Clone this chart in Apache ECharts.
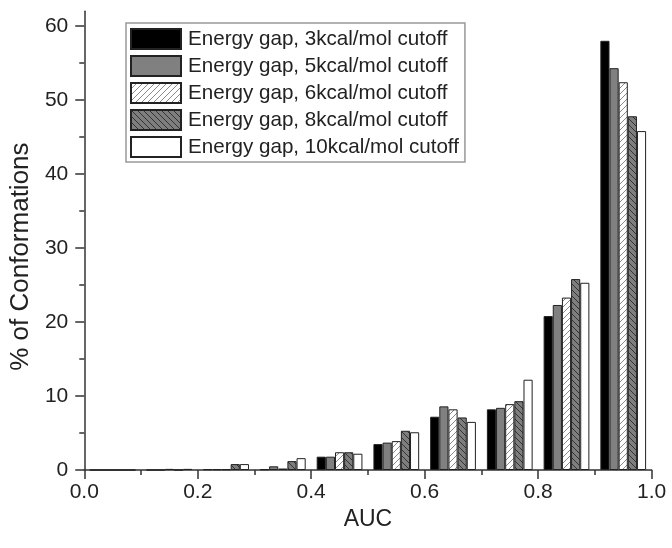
<!DOCTYPE html>
<html>
<head>
<meta charset="utf-8">
<script src="https://cdn.jsdelivr.net/npm/echarts@6/dist/echarts.min.js"></script>
<style>
html,body{margin:0;padding:0;background:#fff;}
#c{width:672px;height:548px;}
</style>
</head>
<body>
<div id="c"></div>
<script>
// Data
var bins = ['0.0-0.1','0.1-0.2','0.2-0.3','0.3-0.4','0.4-0.5','0.5-0.6','0.6-0.7','0.7-0.8','0.8-0.9','0.9-1.0'];
var seriesNames = ['Energy gap, 3kcal/mol cutoff','Energy gap, 5kcal/mol cutoff','Energy gap, 6kcal/mol cutoff','Energy gap, 8kcal/mol cutoff','Energy gap, 10kcal/mol cutoff'];
var gap3  = [0, 0,    0.1, 0.1, 1.8, 3.5, 7.2, 8.2, 20.8, 58.0];
var gap5  = [0, 0,    0.1, 0.5, 1.8, 3.7, 8.6, 8.4, 22.3, 54.3];
var gap6  = [0, 0.15, 0.1, 0.2, 2.4, 3.9, 8.2, 8.9, 23.3, 52.4];
var gap8  = [0, 0,    0.8, 1.2, 2.4, 5.3, 7.1, 9.3, 25.8, 47.8];
var gap10 = [0, 0.15, 0.8, 1.6, 2.2, 5.1, 6.5, 12.2, 25.3, 45.8];
var yTicks = [0, 10, 20, 30, 40, 50, 60];
var yMinorTicks = [5, 15, 25, 35, 45, 55];

function pattern(bg, fg, dir) {
  var s = 6;
  var cv = document.createElement('canvas');
  cv.width = s; cv.height = s;
  var ctx = cv.getContext('2d');
  ctx.fillStyle = bg; ctx.fillRect(0, 0, s, s);
  ctx.strokeStyle = fg; ctx.lineWidth = 1;
  ctx.beginPath();
  if (dir === '/') {
    ctx.moveTo(-1, s + 1); ctx.lineTo(s + 1, -1);
    ctx.moveTo(-s / 2 - 1, s / 2 + 1); ctx.lineTo(s / 2 + 1, -s / 2 - 1);
    ctx.moveTo(s / 2 - 1, 3 * s / 2 + 1); ctx.lineTo(3 * s / 2 + 1, s / 2 - 1);
  } else {
    ctx.moveTo(-1, -1); ctx.lineTo(s + 1, s + 1);
    ctx.moveTo(-s / 2 - 1, s / 2 - 1); ctx.lineTo(s / 2 + 1, 3 * s / 2 + 1);
    ctx.moveTo(s / 2 - 1, -s / 2 - 1); ctx.lineTo(3 * s / 2 + 1, s / 2 + 1);
  }
  ctx.stroke();
  return { image: cv, repeat: 'repeat' };
}

var fills = [
  '#000000',
  '#808080',
  pattern('#ffffff', '#8a8a8a', '/'),
  pattern('#7e7e7e', '#333333', '\\'),
  '#ffffff'
];
var values = [gap3, gap5, gap6, gap8, gap10];

var font = '"Liberation Sans", Arial, sans-serif';
var axisColor = '#333';

var chart = echarts.init(document.getElementById('c'), null, { renderer: 'canvas' });
var series = values.map(function (v, i) {
  return {
    name: seriesNames[i],
    type: 'bar',
    xAxisIndex: 0,
    yAxisIndex: 0,
    data: v,
    barWidth: 9.15,
    barGap: '0%',
    itemStyle: { color: fills[i], borderColor: '#222', borderWidth: 1 },
    emphasis: { disabled: true },
    animation: false
  };
});

chart.setOption({
  animation: false,
  backgroundColor: '#ffffff',
  textStyle: { fontFamily: font, color: '#222' },
  grid: { left: 79.6, right: 20.4, top: 11.2, bottom: 78, containLabel: false },
  legend: {
    orient: 'vertical',
    left: 126,
    top: 23,
    padding: [5, 6, 4, 4],
    icon: 'rect',
    itemWidth: 50,
    itemHeight: 20,
    itemGap: 5,
    borderColor: '#999',
    borderWidth: 1.5,
    backgroundColor: '#fff',
    textStyle: { fontFamily: font, fontSize: 20.6, color: '#222', lineHeight: 22, padding: [0, 0, 0, 2] },
    data: seriesNames,
    selectedMode: false
  },
  xAxis: [
    {
      type: 'category',
      data: bins,
      show: false,
      boundaryGap: true
    },
    {
      type: 'value',
      min: 0,
      max: 1,
      interval: 0.2,
      position: 'bottom',
      axisLine: { show: true, onZero: false, lineStyle: { color: axisColor, width: 1.5 } },
      axisTick: { show: true, length: 9, inside: false, lineStyle: { color: axisColor, width: 1.5 } },
      minorTick: { show: true, splitNumber: 2, length: 5, lineStyle: { color: axisColor, width: 1.5 } },
      axisLabel: { fontSize: 21, color: '#222', fontFamily: font, margin: 12, formatter: function (v) { return v.toFixed(1); } },
      splitLine: { show: false },
      name: 'AUC',
      nameLocation: 'middle',
      nameGap: 38,
      nameTextStyle: { fontSize: 23, color: '#222', fontFamily: font }
    }
  ],
  yAxis: [
    {
      type: 'value',
      min: 0,
      max: 62,
      position: 'left',
      axisLine: { show: true, onZero: false, lineStyle: { color: axisColor, width: 1.5 } },
      axisTick: { show: true, length: 9, inside: false, customValues: yTicks, lineStyle: { color: axisColor, width: 1.5 } },
      axisLabel: { fontSize: 21, color: '#222', fontFamily: font, margin: 16, customValues: yTicks },
      splitLine: { show: false },
      name: '% of Conformations',
      nameLocation: 'middle',
      nameGap: 49,
      nameTextStyle: { fontSize: 26, color: '#222', fontFamily: font, padding: [0, 32, 0, 0] }
    },
    {
      type: 'value',
      min: 0,
      max: 62,
      position: 'left',
      offset: 0,
      axisLine: { show: false },
      axisTick: { show: true, length: 5, inside: false, customValues: yMinorTicks, lineStyle: { color: axisColor, width: 1.5 } },
      axisLabel: { show: false },
      splitLine: { show: false }
    }
  ],
  series: series
});
</script>
</body>
</html>
